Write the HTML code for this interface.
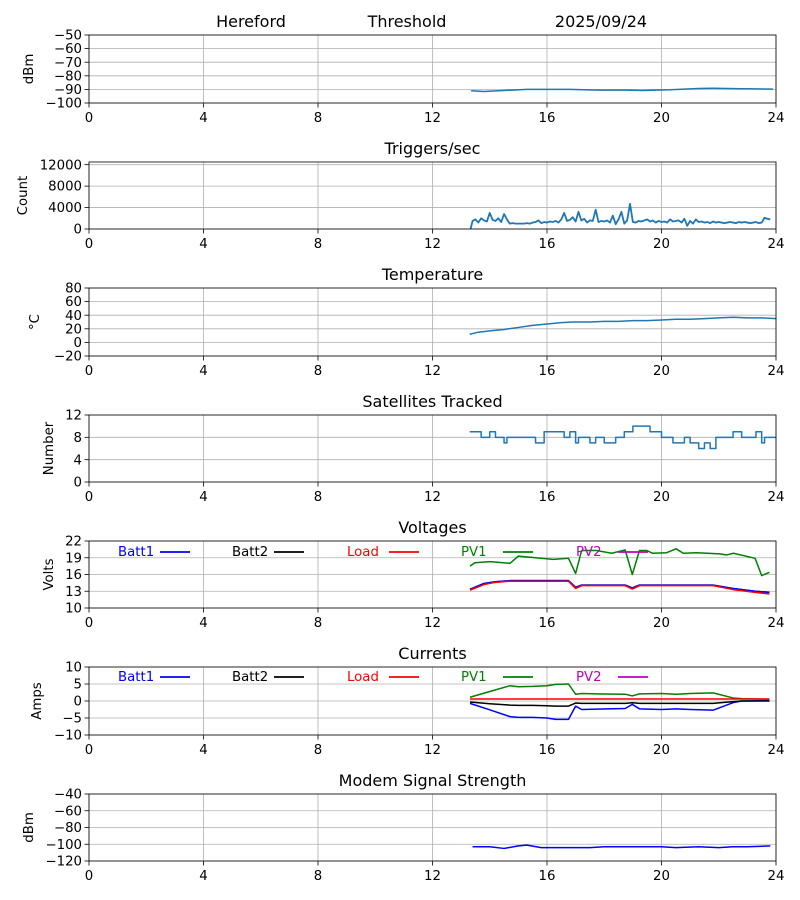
<!DOCTYPE html>
<html><head><meta charset="utf-8">
<style>
body{margin:0;background:#fff;}
svg{display:block;font-family:"DejaVu Sans","Liberation Sans",sans-serif;}
</style></head>
<body>
<svg id="fig" width="800" height="900" viewBox="0 0 800 900" xmlns="http://www.w3.org/2000/svg">
<rect width="800" height="900" fill="#fff"/>
<text x="251" y="27" font-size="16" text-anchor="middle">Hereford</text>
<text x="407" y="27" font-size="16" text-anchor="middle">Threshold</text>
<text x="601" y="27" font-size="16" text-anchor="middle">2025/09/24</text>
</svg>
<script>
const xTicks=[0,4,8,12,16,20,24];
// Threshold
const thrT=[13.35,13.8,14.3,14.8,15.3,15.8,16.3,16.8,17.3,17.8,18.3,18.8,19.3,19.8,20.3,20.8,21.3,21.8,22.3,22.8,23.3,23.9];
const thrV=[-91,-91.5,-91,-90.5,-90,-90,-90,-90,-90.3,-90.5,-90.5,-90.5,-90.8,-90.5,-90.3,-89.8,-89.3,-89.2,-89.3,-89.5,-89.6,-89.8];
// Triggers
const trigStart=13.4, trigStep=0.1;
const trigV=[1500,1800,1200,2000,1600,1400,3000,1700,1500,2000,1300,2800,1800,1000,1100,1000,1000,1000,1000,1100,1000,1200,1300,1600,1100,1300,1200,1400,1300,1500,1200,1800,3000,1500,1700,2200,1400,3200,1600,1900,1200,1600,1500,3600,1300,1500,1400,1600,1200,2500,900,1800,3200,1000,1600,4700,1300,1200,1500,1400,1600,1800,1400,1600,1200,1500,1300,1400,1200,1800,1400,1500,1600,1200,1900,600,1500,1000,1800,1300,1400,1200,1300,1100,1400,1200,1300,1200,1100,1200,1300,1200,1100,1300,1200,1300,1200,1100,1200,1300,1100,1200,2100,1900,1800];
// Temperature
const tempT=[13.3,13.6,14.0,14.5,15.0,15.5,16.0,16.5,16.9,17.5,18.0,18.5,19.0,19.5,20.0,20.5,21.0,21.5,22.0,22.5,23.0,23.5,24.0];
const tempV=[12,15,17,19,22,25,27,29,30,30,31,31,32,32,33,34,34,35,36,37,36,36,35];
// Satellites (step)
const satT=[13.3,13.7,14.0,14.2,14.5,14.6,15.6,15.9,16.6,16.8,17.0,17.1,17.5,17.7,18.0,18.4,18.7,19.0,19.6,20.0,20.4,20.8,21.0,21.3,21.5,21.7,21.9,22.5,22.8,23.3,23.5,23.6,24.0];
const satV=[9,8,9,8,7,8,7,9,8,9,7,8,7,8,7,8,9,10,9,8,7,8,7,6,7,6,8,9,8,9,7,8,8];
// Voltages
const pv1VT=[13.31,13.48,14.01,14.71,15.0,15.41,16.22,16.75,17.0,17.21,17.73,18.26,18.73,18.98,19.23,19.48,19.69,20.18,20.51,20.76,21.23,22.04,22.28,22.51,23.27,23.5,23.77];
const pv1VV=[17.5,18.1,18.3,18.0,19.3,19.1,18.7,18.9,16.2,20.3,20.3,19.8,20.4,16.0,20.3,20.3,19.8,19.9,20.6,19.8,19.9,19.7,19.5,19.8,18.9,15.8,16.4];
const battVT=[13.31,13.8,14.2,14.71,15.5,16.3,16.75,17.0,17.21,17.73,18.5,18.73,18.98,19.23,20.0,21.0,21.8,22.5,23.27,23.77];
const batt1VV=[13.35,14.4,14.7,14.9,14.9,14.9,14.9,13.7,14.1,14.1,14.1,14.1,13.6,14.1,14.1,14.1,14.1,13.5,13.0,12.8];
const loadVV=[13.2,14.2,14.6,14.8,14.8,14.8,14.8,13.5,14.0,14.0,14.0,14.0,13.4,14.0,14.0,14.0,14.0,13.3,12.8,12.5];
// Currents
const curT=[13.31,14.0,14.71,15.0,15.5,16.0,16.3,16.75,17.0,17.21,17.73,18.73,18.98,19.23,20.0,20.51,21.0,21.8,22.5,22.8,23.77];
const pv1CV=[1.1,2.8,4.5,4.2,4.3,4.5,4.9,5.0,2.0,2.2,2.1,2.0,1.5,2.1,2.2,2.0,2.2,2.4,0.9,0.7,0.5];
const batt1CV=[-0.7,-2.6,-4.6,-4.8,-4.8,-5.0,-5.4,-5.4,-1.5,-2.5,-2.4,-2.2,-1.0,-2.3,-2.5,-2.3,-2.5,-2.7,-0.5,0,0.1];
const batt2CV=[-0.3,-0.8,-1.2,-1.3,-1.3,-1.4,-1.5,-1.5,-0.6,-0.7,-0.7,-0.7,-0.5,-0.7,-0.7,-0.7,-0.7,-0.7,-0.2,0,0];
const loadCV=[0.6,0.6,0.6,0.6,0.6,0.6,0.6,0.6,0.6,0.6,0.6,0.6,0.6,0.6,0.6,0.6,0.6,0.6,0.6,0.6,0.6];
// Modem
const modT=[13.4,14.0,14.5,15.0,15.3,15.8,16.5,17.5,18.0,19.0,20.0,20.5,21.3,22.0,22.5,23.0,23.8];
const modV=[-103,-103,-105,-102,-101,-104,-104,-104,-103,-103,-103,-104,-103,-104,-103,-103,-102];

const NS='http://www.w3.org/2000/svg';
const fig=document.getElementById('fig');
const L=89,R=776;
const labelX={threshold:33,triggers:27,temperature:39,satellites:53,voltages:53,currents:41,modem:33};
function X(h){return L+(h/24)*(R-L);}
function mk(tag,attrs,parent){const e=document.createElementNS(NS,tag);for(const k in attrs)e.setAttribute(k,attrs[k]);(parent||fig).appendChild(e);return e;}

function panel(key,top,bot,ymin,ymax,yTicks,ylabel,title){
  const g=mk('g',{});
  
  
  const Y=v=>bot-(v-ymin)/(ymax-ymin)*(bot-top);
  xTicks.forEach(t=>{
    const l=mk('line',{x1:X(t),x2:X(t),y1:top,y2:bot,stroke:'#b0b0b0','stroke-width':0.8},g);
    
    
    mk('line',{x1:X(t),x2:X(t),y1:bot,y2:bot+4.5,stroke:'#000','stroke-width':0.8},g);
    const tx=mk('text',{x:X(t),y:bot+19,'font-size':13.3,'text-anchor':'middle'},g);
    tx.textContent=t;
    
    
  });
  yTicks.forEach(v=>{
    const l=mk('line',{x1:L,x2:R,y1:Y(v),y2:Y(v),stroke:'#b0b0b0','stroke-width':0.8},g);
    
    
    mk('line',{x1:L-4.5,x2:L,y1:Y(v),y2:Y(v),stroke:'#000','stroke-width':0.8},g);
    const tx=mk('text',{x:L-7,y:Y(v)+4.6,'font-size':13.3,'text-anchor':'end'},g);
    tx.textContent=String(v).replace('-','\u2212');
    
    
  });
  const yl=mk('text',{x:0,y:0,'font-size':13.3,'text-anchor':'middle',transform:`translate(${labelX[key]},${(top+bot)/2}) rotate(-90)`},g);
  yl.textContent=ylabel;
  
  
  if(title){
    const tt=mk('text',{x:(L+R)/2,y:top-8,'font-size':16,'text-anchor':'middle'},g);
    tt.textContent=title;
    
    
  }
  const clip='clip-'+key;
  const cp=mk('clipPath',{id:clip},g);mk('rect',{x:L,y:top,width:R-L,height:bot-top},cp);
  const plot=mk('g',{'clip-path':`url(#${clip})`},g);
  return {g,plot,Y,top,bot};
}
function frame(p,key){
  const f=mk('rect',{x:L,y:p.top,width:R-L,height:p.bot-p.top,fill:'none',stroke:'#000','stroke-width':0.8},p.g);
  
  
}
function line(p,ts,vs,color,name,w,step){
  let d='';
  ts.forEach((t,i)=>{
    const x=X(t),y=p.Y(vs[i]);
    if(i===0)d='M'+x+','+y;
    else if(step)d+=' L'+x+','+p.Y(vs[i-1])+' L'+x+','+y;
    else d+=' L'+x+','+y;
  });
  const e=mk('path',{d,fill:'none',stroke:color,'stroke-width':w||1.5,'stroke-linejoin':'round'},p.plot);
  
  
}
function legend(p,y){
  const items=[['Batt1','#0000ff',118],['Batt2','#000',232],['Load','#ff0000',347],['PV1','#008000',461],['PV2','#bf00bf',576]];
  items.forEach(([n,c,x])=>{
    const t=mk('text',{x,y:y+5,'font-size':13.3,fill:c},p.g);
    t.textContent=n;
    
    
    mk('line',{x1:x+42,x2:x+72,y1:y+1,y2:y+1,stroke:c,'stroke-width':1.8},p.g);
  });
}

let p;
p=panel('threshold',35,103,-100,-50,[-50,-60,-70,-80,-90,-100],'dBm',null);
line(p,thrT,thrV,'#1f77b4','threshold-line');frame(p,'threshold');

p=panel('triggers',162,229,0,12500,[0,4000,8000,12000],'Count','Triggers/sec');
{const ts=[13.33].concat(trigV.map((v,i)=>trigStart+trigStep*i));const vs=[0].concat(trigV);
line(p,ts,vs,'#1f77b4','triggers-line',1.8);}
frame(p,'triggers');

p=panel('temperature',288,356,-20,80,[-20,0,20,40,60,80],'\u00b0C','Temperature');
line(p,tempT,tempV,'#1f77b4','temperature-line');frame(p,'temperature');

p=panel('satellites',415,482,0,12,[0,4,8,12],'Number','Satellites Tracked');
line(p,satT,satV,'#1f77b4','satellites-line',1.5,true);frame(p,'satellites');

p=panel('voltages',541,608,10,22,[10,13,16,19,22],'Volts','Voltages');
line(p,pv1VT,pv1VV,'#008000','pv1-voltage-line');
line(p,battVT,batt1VV,'#000','batt2-voltage-line');
line(p,battVT,batt1VV,'#0000ff','batt1-voltage-line');
line(p,battVT,loadVV,'#ff0000','load-voltage-line');
legend(p,551);frame(p,'voltages');

p=panel('currents',667,735,-10,10,[-10,-5,0,5,10],'Amps','Currents');
line(p,curT,pv1CV,'#008000','pv1-current-line');
line(p,curT,batt1CV,'#0000ff','batt1-current-line');
line(p,curT,batt2CV,'#000','batt2-current-line');
line(p,curT,loadCV,'#ff0000','load-current-line');
legend(p,676);frame(p,'currents');

p=panel('modem',794,861,-120,-40,[-40,-60,-80,-100,-120],'dBm','Modem Signal Strength');
line(p,modT,modV,'#0000ff','modem-signal-line');frame(p,'modem');
</script>
</body></html>
